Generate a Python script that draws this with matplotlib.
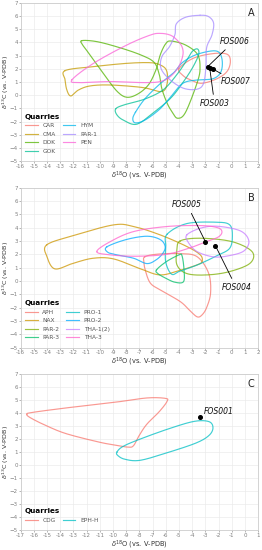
import numpy as np
import matplotlib
matplotlib.use("Agg")
import matplotlib.pyplot as plt

# ---------------- data ----------------
# Panel A quarries: closed contour control points (d18O, d13C)
A_names = ["CAR", "CMA", "DOK", "GOK", "HYM", "PAR-1", "PEN"]
A_colors = ["#F8766D", "#C49A00", "#53B400", "#00C094", "#00B6EB", "#A58AFF", "#FB61D7"]
CAR_x = [-4.0, -2.9, -1.4, -0.35, -0.1, -0.35, -1.1, -2.25, -3.0, -3.65]
CAR_y = [2.0, 2.8, 3.15, 3.1, 2.55, 1.8, 1.25, 0.9, 1.1, 1.45]
CMA_x = [-12.63, -10.48, -7.95, -6.18, -5.42, -4.96, -4.86, -5.04, -5.42, -5.92, -6.93, -9.21, -10.73, -11.62, -12.2, -12.5, -12.63]
CMA_y = [1.86, 2.16, 2.41, 2.46, 2.29, 1.91, 1.15, 0.45, 0.27, 0.39, 0.6, 0.77, 0.7, 0.39, -0.06, 0.39, 1.15]
DOK_x = [-11.36, -10.2, -8.5, -6.9, -5.9, -5.5, -5.3, -4.9, -4.5, -4.1, -3.5, -2.6, -2.4, -2.6, -3.5, -4.6, -5.0, -5.4, -5.75, -6.3, -7.1, -7.95, -8.7, -9.7, -10.7, -11.3]
DOK_y = [4.13, 4.05, 3.6, 3.05, 2.5, 1.6, 0.5, -0.6, -1.3, -1.75, -1.3, 1.0, 2.1, 3.1, 3.8, 4.1, 3.9, 3.1, 1.9, 0.8, 0.1, -0.16, 0.3, 1.6, 3.0, 3.8]
GOK_x = [-8.8, -8.2, -6.6, -5.2, -4.2, -3.5, -3.0, -2.6, -2.5, -2.9, -3.6, -4.6, -5.9, -7.2, -8.2, -8.7]
GOK_y = [-1.05, -0.75, -0.3, 0.4, 1.5, 2.5, 3.3, 3.5, 3.1, 2.2, 1.1, -0.2, -1.3, -2.2, -1.9, -1.5]
HYM_x = [-7.3, -6.6, -5.5, -4.4, -3.7, -2.6, -1.2, -0.75, -0.8, -1.4, -2.6, -3.7, -4.6, -5.5, -6.6, -7.3, -7.5]
HYM_y = [-1.3, -0.3, 0.8, 1.7, 2.5, 3.1, 3.35, 2.8, 1.8, 1.25, 1.15, 0.9, -0.1, -1.1, -1.9, -2.1, -1.8]
PAR1_x = [-2.4, -3.5, -4.2, -4.3, -4.7, -5.3, -5.35, -4.66, -3.65, -2.63, -2.13, -1.95, -1.9, -1.5, -1.37, -1.75]
PAR1_y = [6.05, 5.9, 5.4, 4.6, 3.7, 2.9, 2.0, 1.15, 0.52, 0.45, 0.9, 2.2, 3.6, 4.55, 5.45, 5.95]
PEN_x = [-12.12, -10.48, -7.95, -6.18, -5.42, -4.66, -4.15, -3.77, -3.7, -4.02, -4.66, -5.42, -6.68, -9.21, -11.49]
PEN_y = [1.15, 2.41, 3.8, 4.55, 4.68, 4.55, 4.18, 3.67, 3.04, 2.16, 1.4, 1.03, 0.95, 1.03, 0.95]

# Panel B quarries
B_names = ["APH", "NAX", "PAR-2", "PAR-3", "PRO-1", "PRO-2", "THA-1(2)", "THA-3"]
B_colors = ["#F8766D", "#CD9600", "#7CAE00", "#00BE67", "#00BFC4", "#00A9FF", "#C77CFF", "#FF61CC"]
APH_x = [-6.6, -5.7, -4.0, -2.63, -1.75, -1.6, -1.9, -2.25, -2.6, -3.1, -3.9, -5.42, -6.18, -6.56, -6.65]
APH_y = [1.8, 2.0, 2.05, 1.82, 0.58, -0.9, -2.0, -2.55, -2.7, -2.3, -1.55, -0.68, -0.15, 0.83, 1.4]
NAX_x = [-14.03, -12.0, -8.96, -7.44, -5.42, -3.4, -2.38, -2.25, -2.63, -3.9, -5.42, -6.9, -8.96, -10.5, -12.0, -13.4, -14.0]
NAX_y = [2.7, 3.4, 4.2, 4.08, 3.45, 2.58, 1.95, 1.45, 1.2, 0.8, 0.45, 0.9, 1.65, 1.7, 1.33, 0.9, 1.8]
PAR2_x = [-3.9, -2.38, 0.0, 1.54, 1.4, -0.15, -1.87, -3.4, -4.15, -4.15]
PAR2_y = [3.0, 3.2, 2.95, 2.2, 1.33, 0.7, 0.45, 0.55, 1.2, 2.3]
PAR3_x = [-5.7, -4.95, -4.0, -3.77, -3.62, -3.65, -4.3, -5.0, -5.6]
PAR3_y = [0.83, 1.45, 1.95, 1.9, 0.9, -0.05, -0.1, 0.2, 0.55]
PRO1_x = [-4.9, -3.4, -1.1, -0.15, 0.05, -0.15, -1.1, -2.6, -3.9, -4.55, -5.0, -5.0]
PRO1_y = [3.5, 4.3, 4.4, 4.2, 3.4, 2.45, 1.9, 1.2, 0.75, 0.5, 1.4, 2.6]
PRO2_x = [-9.47, -8.0, -6.43, -5.42, -5.05, -5.2, -5.7, -6.43, -7.44, -8.7, -9.4]
PRO2_y = [2.55, 3.1, 3.35, 3.1, 2.6, 2.1, 1.6, 1.3, 1.7, 1.95, 2.15]
THA1_x = [-3.4, -2.38, -1.1, 0.66, 1.3, 0.93, -0.15, -1.36, -2.63, -3.3]
THA1_y = [3.45, 3.95, 4.1, 3.75, 3.0, 2.25, 1.9, 1.8, 2.2, 2.9]
THA3_x = [-10.23, -9.2, -7.44, -4.9, -2.38, -1.1, -0.74, -1.0, -1.9, -3.1, -4.9, -7.2, -9.2]
THA3_y = [2.2, 2.95, 3.7, 4.08, 4.15, 4.0, 3.7, 3.3, 2.95, 2.5, 2.0, 1.85, 1.95]

# Panel C quarries
C_names = ["CDG", "EPH-H"]
C_colors = ["#F8766D", "#00BFC4"]
CDG_x = [-16.54, -16.1, -13.5, -9.7, -7.43, -6.04, -5.9, -6.5, -7.43, -8.0, -8.44, -8.82, -9.6, -10.98, -13.5, -15.0, -16.2]
CDG_y = [3.9, 4.05, 4.4, 4.85, 5.16, 5.13, 4.9, 4.1, 3.15, 2.3, 1.5, 1.38, 1.5, 1.75, 2.4, 3.0, 3.6]
EPH_x = [-9.7, -9.3, -8.2, -5.9, -3.9, -2.75, -2.42, -2.7, -3.7, -5.9, -7.94, -9.1, -9.65]
EPH_y = [1.0, 1.4, 1.9, 2.75, 3.35, 3.35, 2.9, 2.3, 1.7, 0.95, 0.37, 0.45, 0.75]

# Samples
A_samples = ["FOS006", "FOS003", "FOS007"]
A_sx = [-1.82, -1.67, -1.42]
A_sy = [2.16, 2.08, 1.98]
B_samples = ["FOS005", "FOS004"]
B_sx = [-2.0, -1.24]
B_sy = [2.95, 2.65]
C_samples = ["FOS001"]
C_sx = [-3.43]
C_sy = [3.66]

# ---------------- helpers ----------------
def closed_spline(xs, ys, n=24):
    p = np.column_stack([xs, ys]).astype(float)
    m = len(p)
    out = []
    for i in range(m):
        p0, p1, p2, p3 = p[(i - 1) % m], p[i], p[(i + 1) % m], p[(i + 2) % m]
        t = np.linspace(0, 1, n, endpoint=False)[:, None]
        t2, t3 = t * t, t * t * t
        seg = 0.5 * ((2 * p1) + (-p0 + p2) * t + (2 * p0 - 5 * p1 + 4 * p2 - p3) * t2
                     + (-p0 + 3 * p1 - 3 * p2 + p3) * t3)
        out.append(seg)
    out = np.vstack(out)
    out = np.vstack([out, out[:1]])
    return out[:, 0], out[:, 1]


def style_axes(ax, xmin, xmax, letter):
    ax.set_xlim(xmin, xmax)
    ax.set_ylim(-5, 7)
    ax.set_xticks(np.arange(xmin, xmax + 1, 1))
    ax.set_yticks(np.arange(-5, 8, 1))
    ax.set_xticklabels([str(int(v)) for v in np.arange(xmin, xmax + 1, 1)])
    ax.grid(True, color="#ebebeb", linewidth=0.5)
    ax.set_axisbelow(True)
    for s in ax.spines.values():
        s.set_color("#cccccc")
        s.set_linewidth(0.6)
    ax.tick_params(labelsize=4.0, colors="#808080", length=1.2, width=0.4, pad=0.8)
    ax.set_xlabel(r"$\delta^{18}$O (vs. V-PDB)", fontsize=4.8, color="#333333", labelpad=0.5)
    ax.set_ylabel(r"$\delta^{13}$C (vs. V-PDB)", fontsize=4.6, color="#333333")
    ax.yaxis.set_label_coords(-0.04, 0.5)
    ax.text(0.985, 0.965, letter, transform=ax.transAxes, ha="right", va="top",
            fontsize=7, color="#222222")


def draw_contours(ax, names, colors, shapes):
    for name, col, (xs, ys) in zip(names, colors, shapes):
        sx, sy = closed_spline(xs, ys)
        ax.plot(sx, sy, color=col, lw=0.85, alpha=0.75, label=name)


def legend(ax, ncol):
    leg = ax.legend(loc="lower left", bbox_to_anchor=(0.0, 0.02), ncol=ncol, frameon=False,
                    fontsize=4.2, title="Quarries", title_fontproperties={"weight": "bold", "size": 5.2},
                    alignment="left", handlelength=2.2, handletextpad=0.8, columnspacing=1.2,
                    labelspacing=0.6, borderaxespad=0.3)
    for t in leg.get_texts():
        t.set_color("#555555")


def sample(ax, x, y, label, tx, ty, ha="center", va="center"):
    ax.plot([x], [y], "o", color="black", ms=2.6, zorder=5)
    ax.annotate(label, xy=(x, y), xytext=(tx, ty), fontsize=5.5, style="italic",
                ha=ha, va=va, color="#111111",
                arrowprops=dict(arrowstyle="-", color="black", lw=0.6, shrinkA=1.5, shrinkB=0))


fig = plt.figure(figsize=(2.62, 5.5), dpi=100)
axA = fig.add_axes([0.079, 0.707, 0.906, 0.288])
axB = fig.add_axes([0.079, 0.368, 0.906, 0.291])
axC = fig.add_axes([0.079, 0.036, 0.906, 0.284])

# Panel A
style_axes(axA, -16, 2, "A")
draw_contours(axA, A_names, A_colors,
              [(CAR_x, CAR_y), (CMA_x, CMA_y), (DOK_x, DOK_y), (GOK_x, GOK_y),
               (HYM_x, HYM_y), (PAR1_x, PAR1_y), (PEN_x, PEN_y)])
legend(axA, 2)
sample(axA, A_sx[0], A_sy[0], A_samples[0], 0.2, 4.1)
sample(axA, A_sx[1], A_sy[1], A_samples[1], -1.3, -0.65)
sample(axA, A_sx[2], A_sy[2], A_samples[2], 0.3, 1.0)

# Panel B
style_axes(axB, -16, 2, "B")
draw_contours(axB, B_names, B_colors,
              [(APH_x, APH_y), (NAX_x, NAX_y), (PAR2_x, PAR2_y), (PAR3_x, PAR3_y),
               (PRO1_x, PRO1_y), (PRO2_x, PRO2_y), (THA1_x, THA1_y), (THA3_x, THA3_y)])
legend(axB, 2)
sample(axB, B_sx[0], B_sy[0], B_samples[0], -3.4, 5.75)
sample(axB, B_sx[1], B_sy[1], B_samples[1], 0.35, -0.5)

# Panel C
style_axes(axC, -17, 1, "C")
draw_contours(axC, C_names, C_colors, [(CDG_x, CDG_y), (EPH_x, EPH_y)])
legend(axC, 2)
axC.plot(C_sx, C_sy, "o", color="black", ms=2.6, zorder=5)
axC.text(C_sx[0] + 0.35, C_sy[0] + 0.45, C_samples[0], fontsize=5.5, style="italic",
         ha="left", va="center", color="#111111")

fig.savefig("out.png", dpi=100)
